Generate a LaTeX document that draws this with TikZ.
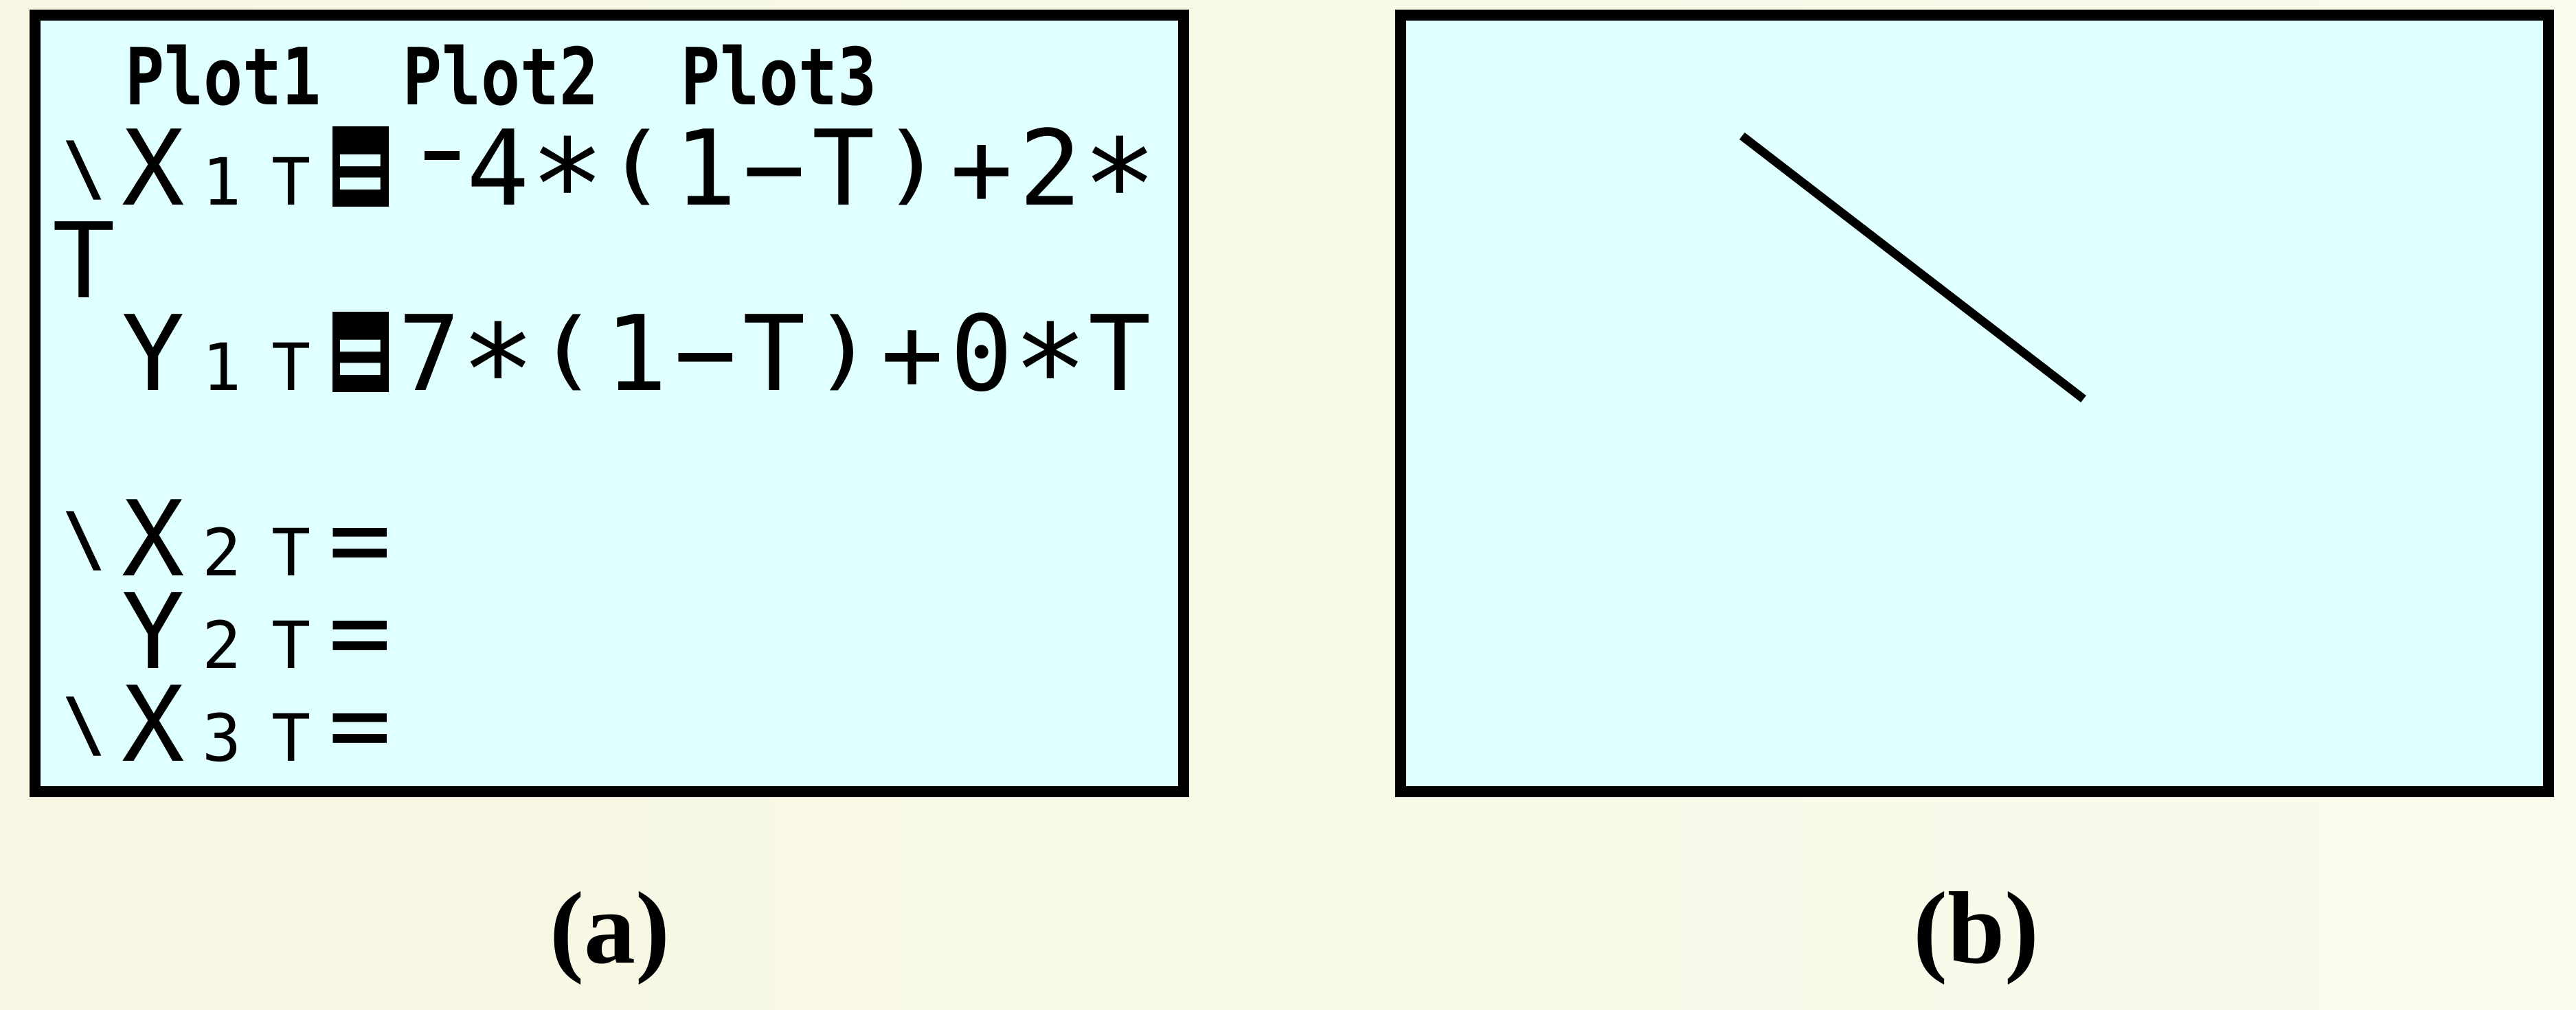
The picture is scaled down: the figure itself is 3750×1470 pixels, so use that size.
\documentclass[tikz,border=0pt]{standalone}
\usepackage{fontspec}
\usepackage{graphicx}
\setmainfont{Liberation Serif}
\newfontfamily\tifont{DejaVu Sans Mono}
\definecolor{creamL}{RGB}{246,246,226}
\definecolor{creamR}{RGB}{251,251,236}
\definecolor{scr}{RGB}{224,255,255}
\newlength\tiw \setlength\tiw{20.1pt}
\newcommand\tiB{\fontsize{30.4pt}{30.4pt}\selectfont}
\newcommand\tiSm{\fontsize{19pt}{19pt}\selectfont}
\newcommand\tiC[1]{\makebox[\tiw][c]{#1}}
\newcommand\tiS[1]{\makebox[\tiw][c]{\tiSm #1}}
\newcommand\tiP[1]{\makebox[\tiw][c]{\raisebox{3.2pt}{\scalebox{1}[0.82]{#1}}}}
\newcommand\tiStar{\makebox[\tiw][c]{\raisebox{-7pt}{\scalebox{1.2}{*}}}}
\newcommand\tiBs{\makebox[\tiw][c]{\raisebox{3.4pt}{\fontsize{21pt}{21pt}\selectfont\bfseries\textbackslash}}}
\newcommand\tiNeg{\makebox[\tiw][c]{\hspace{7.2pt}\raisebox{13pt}{\rule{10.2pt}{2.6pt}}}}
\newcommand\tiEq{\makebox[\tiw][c]{\textcolor{scr}{\bfseries\scalebox{0.75}[1]{=}}}}
\tikzset{
  tirow/.style={anchor=base west, inner sep=0pt, text height=22.4pt, text depth=0pt, font=\tifont\tiB},
  plotlbl/.style={anchor=base west, inner sep=0pt, text height=16.8pt, text depth=0pt, font=\tifont\bfseries\fontsize{23pt}{23pt}\selectfont},
  screen/.style={draw=black, line width=3.2pt, fill=scr},
  caption/.style={anchor=base, inner sep=0pt, font=\fontsize{30pt}{30pt}\selectfont\bfseries}
}
\begin{document}
\begin{tikzpicture}[x=0.2pt, y=-0.2pt]
\useasboundingbox (0,0) rectangle (3750,1470);
\shade[left color=creamL, right color=creamR] (0,0) rectangle (3750,1470);
% screen (a)
\draw[screen] (51,22) rectangle (1723,1153);
\fill (484,184) rectangle (566,301);
\fill (484,454) rectangle (566,571);
\node[plotlbl] (p1) at (181,152) {\scalebox{0.826}[1]{Plot1}};
\node[plotlbl] (p2) at (585,152) {\scalebox{0.826}[1]{Plot2}};
\node[plotlbl] (p3) at (990,152) {\scalebox{0.826}[1]{Plot3}};
\node[tirow] (r1) at (71.25,298) {\tiBs\tiC{X}\tiS{1}\tiS{T}\tiEq\tiNeg\tiC{4}\tiStar\tiP{(}\tiC{1}\tiC{−}\tiC{T}\tiP{)}\tiC{+}\tiC{2}\tiStar};
\node[tirow] (r2) at (71.25,433) {\tiC{T}};
\node[tirow] (r3) at (71.25,568) {\tiC{}\tiC{Y}\tiS{1}\tiS{T}\tiEq\tiC{7}\tiStar\tiP{(}\tiC{1}\tiC{−}\tiC{T}\tiP{)}\tiC{+}\tiC{0}\tiStar\tiC{T}};
\node[tirow] (r4) at (71.25,838) {\tiBs\tiC{X}\tiS{2}\tiS{T}\tiC{=}};
\node[tirow] (r5) at (71.25,973) {\tiC{}\tiC{Y}\tiS{2}\tiS{T}\tiC{=}};
\node[tirow] (r6) at (71.25,1108) {\tiBs\tiC{X}\tiS{3}\tiS{T}\tiC{=}};
% screen (b)
\draw[screen] (2039,22) rectangle (3710,1153);
\coordinate (s0) at (2536,198);
\coordinate (s1) at (3033,581);
\draw[line width=2.5pt] (s0) -- (s1);
% captions
\node[caption] (ca) at (888,1402) {(a)};
\node[caption] (cb) at (2877,1402) {(b)};
\end{tikzpicture}
\end{document}
